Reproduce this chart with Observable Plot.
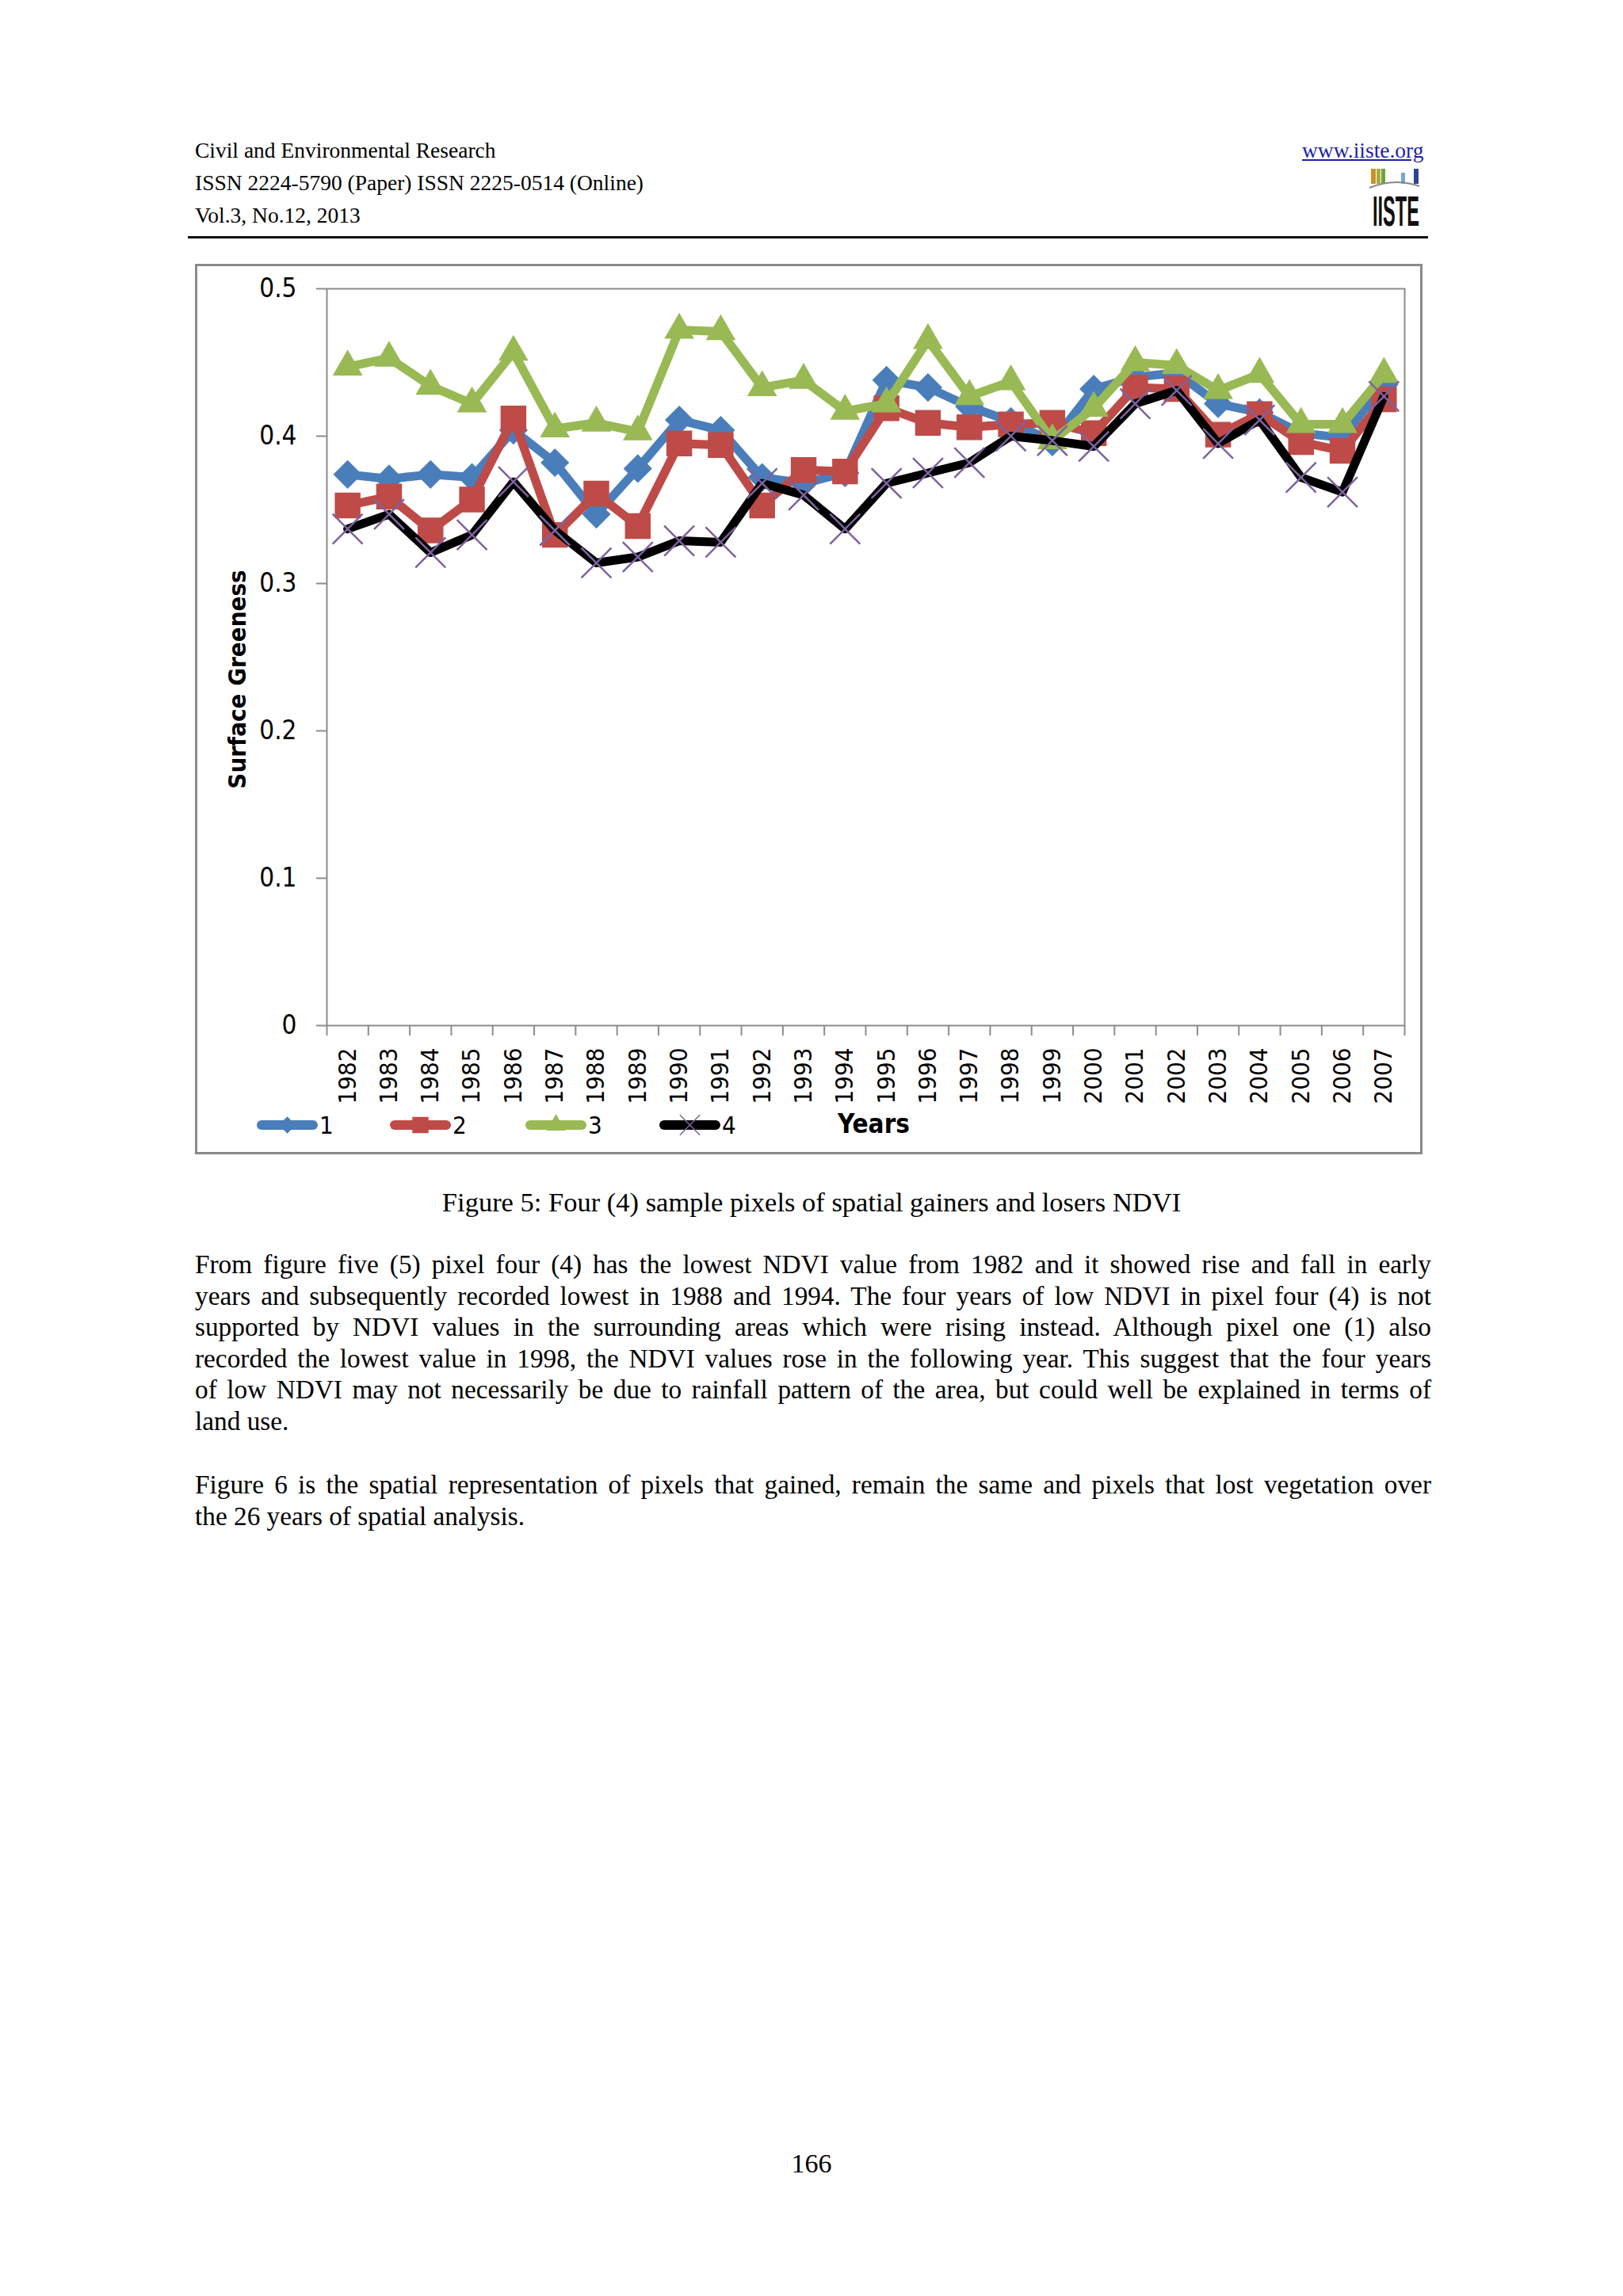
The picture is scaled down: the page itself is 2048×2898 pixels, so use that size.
<!DOCTYPE html>
<html>
<head>
<meta charset="utf-8">
<script src="https://cdn.jsdelivr.net/npm/d3@7"></script>
<script src="https://cdn.jsdelivr.net/npm/@observablehq/plot@0.6"></script>
<style>
html,body{margin:0;padding:0;background:#fff;}
body{width:2048px;height:2898px;position:relative;overflow:hidden;font-family:"Liberation Serif","Times New Roman",serif;color:#000;}
.abs{position:absolute;white-space:nowrap;}
.hdr{left:246px;font-size:27.5px;line-height:40px;}
.link{font-size:27.5px;line-height:40px;color:#1f1fa8;text-decoration:underline;}
.body{position:absolute;left:246px;width:1560px;font-size:33.3px;line-height:39.6px;}
.j{text-align:justify;text-align-last:justify;}
.cap{position:absolute;left:0;width:2048px;text-align:center;font-size:33.3px;line-height:40px;}
#frame{position:absolute;left:246px;top:333px;width:1549px;height:1124px;border:3px solid #8a8a8a;box-sizing:border-box;}
#chart{position:absolute;left:246px;top:333px;}
.sans{font-family:"DejaVu Sans Condensed","DejaVu Sans","Liberation Sans",sans-serif;}
.leg{position:absolute;font-size:31px;line-height:36px;}
</style>
</head>
<body>
<div class="abs hdr" style="top:170px">Civil and Environmental Research</div>
<div class="abs hdr" style="top:211px">ISSN 2224-5790 (Paper) ISSN 2225-0514 (Online)</div>
<div class="abs hdr" style="top:252px">Vol.3, No.12, 2013</div>
<div class="abs link" style="top:170px;left:1643px">www.iiste.org</div>
<svg class="abs" style="left:1720px;top:205px;overflow:visible" width="80" height="90" viewBox="0 0 80 90">
  <rect x="10" y="8" width="6" height="19" fill="#c8922a"/>
  <rect x="17" y="8" width="5" height="19" fill="#a8ad3a"/>
  <rect x="23" y="8" width="5" height="19" fill="#6fa33b"/>
  <rect x="48" y="13" width="5" height="14" fill="#6fa8dc"/>
  <rect x="64" y="8" width="6" height="19" fill="#2e4590"/>
  <path d="M8 32 Q40 19 71 30" fill="none" stroke="#888" stroke-width="2"/>
  <text x="12" y="80" font-family="Liberation Sans Narrow, Liberation Sans, sans-serif" font-weight="bold" fill="#111"
        font-size="54" textLength="59" lengthAdjust="spacingAndGlyphs">IISTE</text>
</svg>
<div class="abs" style="left:237px;top:298px;width:1565px;height:3px;background:#111"></div>

<div id="frame"></div>
<div id="chart"></div>

<div class="cap" style="top:1497px;font-size:34.5px">Figure 5: Four (4) sample pixels of spatial gainers and losers NDVI</div>

<div class="body j" style="top:1576px">From figure five (5) pixel four (4) has the lowest NDVI value from 1982 and it showed rise and fall in early</div>
<div class="body j" style="top:1615.6px">years and subsequently recorded lowest in 1988 and 1994. The four years of low NDVI in pixel four (4) is not</div>
<div class="body j" style="top:1655.2px">supported by NDVI values in the surrounding areas which were rising instead. Although pixel one (1) also</div>
<div class="body j" style="top:1694.8px">recorded the lowest value in 1998, the NDVI values rose in the following year. This suggest that the four years</div>
<div class="body j" style="top:1734.4px">of low NDVI may not necessarily be due to rainfall pattern of the area, but could well be explained in terms of</div>
<div class="body" style="top:1774px">land use.</div>
<div class="body j" style="top:1854px">Figure 6 is the spatial representation of pixels that gained, remain the same and pixels that lost vegetation over</div>
<div class="body" style="top:1893.6px">the 26 years of spatial analysis.</div>

<div class="cap" style="top:2711px;font-size:34px">166</div>

<script>
// ---- data ----
const years = [1982,1983,1984,1985,1986,1987,1988,1989,1990,1991,1992,1993,1994,
               1995,1996,1997,1998,1999,2000,2001,2002,2003,2004,2005,2006,2007];
const pixel1 = [0.374,0.371,0.374,0.372,0.404,0.382,0.347,0.378,0.411,0.404,0.372,0.368,0.375,
                0.438,0.433,0.420,0.410,0.396,0.432,0.440,0.443,0.422,0.416,0.402,0.399,0.435];
const pixel2 = [0.353,0.359,0.336,0.357,0.412,0.333,0.361,0.339,0.395,0.394,0.353,0.377,0.376,
                0.419,0.409,0.406,0.408,0.409,0.402,0.433,0.432,0.401,0.415,0.396,0.390,0.425];
const pixel3 = [0.447,0.453,0.434,0.422,0.457,0.405,0.409,0.403,0.472,0.471,0.433,0.438,0.417,
                0.422,0.465,0.427,0.437,0.397,0.419,0.450,0.448,0.431,0.442,0.408,0.408,0.442];
const pixel4 = [0.337,0.347,0.321,0.333,0.369,0.336,0.314,0.318,0.329,0.328,0.368,0.360,0.337,
                0.368,0.375,0.382,0.400,0.397,0.393,0.422,0.431,0.395,0.411,0.372,0.362,0.427];
const yTicks = [0, 0.1, 0.2, 0.3, 0.4, 0.5];
const seriesNames = ["1", "2", "3", "4"];
const yTitle = "Surface Greeness";
const xTitle = "Years";

const colors = {"1":"#4a7ebb","2":"#be4b48","3":"#98b954","4":"#000000"};
const markColor = {"1":"#4a7ebb","2":"#be4b48","3":"#98b954","4":"#7e62a1"};
const symbols = {"1":"diamond2","2":"square","3":"triangle","4":"times"};
const radii = {"1":16.3,"2":18.3,"3":14,"4":17.3};
const allValues = [pixel1, pixel2, pixel3, pixel4];
const rows = seriesNames.map((s, k) => years.map((yr, i) => ({year: yr, v: allValues[k][i], s})));

const boundaries = years.map(y => y - 0.5).concat([years[years.length - 1] + 0.5]);
const sansFont = '"DejaVu Sans Condensed","DejaVu Sans","Liberation Sans",sans-serif';

const seriesMarks = [];
seriesNames.forEach((s, k) => {
  seriesMarks.push(Plot.line(rows[k], {x: "year", y: "v", stroke: colors[s], strokeWidth: 11,
    strokeLinejoin: "round", strokeLinecap: "round"}));
  if (s === "4") {
    seriesMarks.push(Plot.dot(rows[k], {x: "year", y: "v", symbol: symbols[s], r: radii[s],
      stroke: markColor[s], strokeWidth: 2.5, fill: "none"}));
  } else {
    seriesMarks.push(Plot.dot(rows[k], {x: "year", y: "v", symbol: symbols[s], r: radii[s],
      fill: markColor[s], stroke: "none"}));
  }
});

const W = 1549, H = 1100;
const chart = Plot.plot({
  width: W, height: H,
  marginLeft: 166, marginRight: 23, marginTop: 31, marginBottom: H - (1294 - 333),
  x: {type: "linear", domain: [boundaries[0], boundaries[boundaries.length - 1]]},
  y: {domain: [0, 0.5]},
  style: {fontFamily: sansFont, background: "transparent", overflow: "visible"},
  marks: [
    Plot.frame({stroke: "#8c8c8c", strokeWidth: 2}),
    Plot.axisY(yTicks, {tickSize: 13, tickPadding: 25, stroke: "#8c8c8c", strokeWidth: 2, fill: "#000",
      fontSize: 33, label: null, tickFormat: d => d === 0 ? "0" : d.toFixed(1)}),
    Plot.axisX(boundaries, {tickSize: 13, stroke: "#8c8c8c", strokeWidth: 2, label: null, tickFormat: () => ""}),
    Plot.axisX(years, {tickSize: 0, tickPadding: 28, tickRotate: -90, fill: "#000", fontSize: 31,
      label: null, tickFormat: d => String(d)}),
    Plot.text([yTitle], {frameAnchor: "left", textAnchor: "middle", dx: -112, dy: 28, rotate: -90, fontSize: 31,
      fontWeight: "bold", fill: "#000", text: d => d}),
    ...seriesMarks
  ]
});
document.getElementById("chart").appendChild(chart);

// ---- legend (inside the chart frame, below the axis) ----
const legendLeft = [324, 492, 663, 832];
const body = document.body;
seriesNames.forEach((s, k) => {
  const x0 = legendLeft[k];
  const svg = d3.create("svg").attr("width", 90).attr("height", 34)
    .style("position", "absolute").style("left", (x0 - 2) + "px").style("top", "1403px");
  svg.append("line").attr("x1", 8).attr("x2", 73).attr("y1", 17).attr("y2", 17)
    .attr("stroke", colors[s]).attr("stroke-width", 12).attr("stroke-linecap", "round");
  const symMap = {diamond2: d3.symbolDiamond2, square: d3.symbolSquare, triangle: d3.symbolTriangle, times: d3.symbolTimes};
  const sizes = {"1": 300, "2": 420, "3": 250, "4": 420};
  const p = d3.symbol(symMap[symbols[s]], sizes[s])();
  const g = svg.append("path").attr("d", p).attr("transform", `translate(40.5,17)`);
  if (s === "4") g.attr("fill", "none").attr("stroke", markColor[s]).attr("stroke-width", 1.5);
  else g.attr("fill", markColor[s]);
  body.appendChild(svg.node());
  const t = document.createElement("div");
  t.className = "leg sans abs";
  t.style.left = (x0 + 79) + "px";
  t.style.top = "1402px";
  t.textContent = s;
  body.appendChild(t);
});
const yt = document.createElement("div");
yt.className = "leg sans abs";
yt.style.left = "1057px"; yt.style.top = "1401px"; yt.style.fontWeight = "bold"; yt.style.fontSize = "33px";
yt.textContent = xTitle;
body.appendChild(yt);
</script>
</body>
</html>
